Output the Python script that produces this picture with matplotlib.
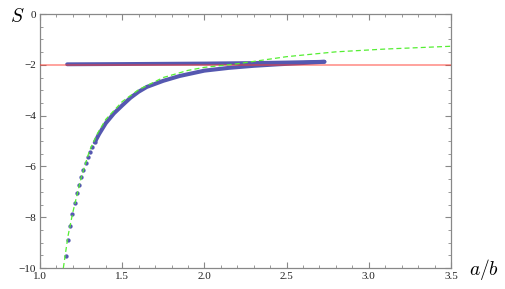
import matplotlib
matplotlib.use("Agg")
import matplotlib.pyplot as plt
from matplotlib.ticker import MultipleLocator

plt.rcParams["mathtext.fontset"] = "cm"

# lower branch: discrete dots (steep part)
low_dot_x = [1.158, 1.170, 1.184, 1.197, 1.211, 1.223, 1.237, 1.249, 1.263, 1.278,
             1.290, 1.304, 1.318, 1.333]
low_dot_y = [-9.52, -8.90, -8.35, -7.87, -7.44, -7.06, -6.72, -6.42, -6.13, -5.88,
             -5.64, -5.43, -5.24, -5.05]
# lower branch: dense part (dots merge into a thick band)
low_band_x = [1.333, 1.36, 1.40, 1.45, 1.50, 1.55, 1.60, 1.65, 1.75, 1.85, 2.00,
              2.15, 2.30, 2.45, 2.60, 2.73]
low_band_y = [-5.05, -4.72, -4.30, -3.91, -3.60, -3.30, -3.06, -2.87, -2.63, -2.44,
              -2.23, -2.12, -2.04, -1.98, -1.93, -1.88]
# upper branch
up_x = [1.165, 1.50, 2.00, 2.30, 2.50, 2.73]
up_y = [-1.98, -1.97, -1.95, -1.93, -1.91, -1.88]
# asymptotic (green dashed)
asy_x = [1.142, 1.17, 1.20, 1.25, 1.30, 1.35, 1.40, 1.50, 1.60, 1.75, 1.90, 2.00,
         2.20, 2.50, 2.80, 3.10, 3.50]
asy_y = [-10.0, -8.75, -7.80, -6.45, -5.40, -4.70, -4.15, -3.45, -2.98, -2.50, -2.22,
         -2.10, -1.96, -1.68, -1.49, -1.38, -1.27]
# reference level
ref_level = -2.0

xticks = [1.0, 1.5, 2.0, 2.5, 3.0, 3.5]
yticks = [0, -2, -4, -6, -8, -10]

serif = ["Liberation Serif", "DejaVu Serif"]

fig = plt.figure(figsize=(5.06, 2.89), dpi=100)
ax = fig.add_axes([40/506, 21/289, 411/506, 254/289])

blue = "#5558b0"
ax.plot(low_band_x, low_band_y, color=blue, lw=2.9, solid_capstyle="round", zorder=3)
ax.plot(low_dot_x, low_dot_y, 'o', color=blue, ms=3.1, mec="none", zorder=3)
ax.plot(up_x, up_y, color=blue, lw=2.8, solid_capstyle="round", zorder=3)
ax.axhline(ref_level, color="#ff3b30", alpha=0.6, lw=1.1, zorder=4)
ax.plot(asy_x, asy_y, color="#55ee33", lw=0.9, dashes=(4, 2.5), zorder=5)

ax.set_xlim(1.0, 3.5)
ax.set_ylim(-10, 0)
ax.set_xticks(xticks)
ax.set_yticks(yticks)
ax.set_xticklabels([f"{v:.1f}" for v in xticks], fontfamily=serif, fontsize=8)
ax.set_yticklabels([("\u2212" + str(abs(v))) if v < 0 else str(v) for v in yticks],
                   fontfamily=serif, fontsize=8)
ax.xaxis.set_minor_locator(MultipleLocator(0.1))
ax.yaxis.set_minor_locator(MultipleLocator(0.5))
ax.tick_params(which="both", direction="in", top=True, right=True, color="#888888",
               labelcolor="#222222")
ax.tick_params(which="major", length=4, width=0.8, pad=3)
ax.tick_params(which="minor", length=2, width=0.6)
for s in ax.spines.values():
    s.set_color("#888888")
    s.set_linewidth(0.9)

fig.text(17/506, 1 - 16/289, "$S$", fontsize=14, ha="center", va="center")
fig.text(484/506, 1 - 270/289, "$a/b$", fontsize=14, ha="center", va="center")

fig.savefig("out.png", dpi=100)
